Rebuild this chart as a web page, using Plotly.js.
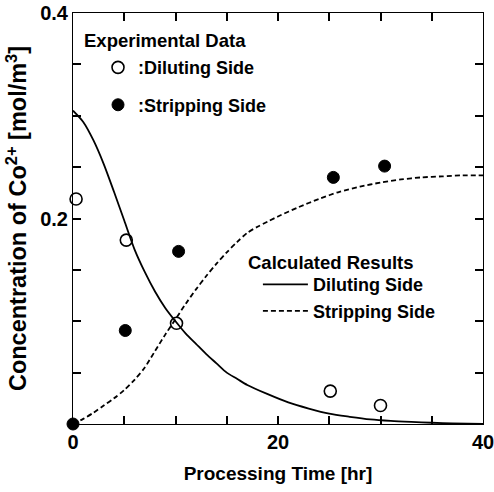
<!DOCTYPE html>
<html><head><meta charset="utf-8">
<script src="https://cdn.plot.ly/plotly-3.0.1.min.js"></script>
<style>body{margin:0;background:#fff}</style>
</head><body>
<div id="chart" style="width:494px;height:492px"></div>
<script>
// Experimental data
const expDilX = [0.3, 5.2, 10.1, 25.1, 30.0];
const expDilY = [0.219, 0.179, 0.098, 0.032, 0.018];
const expStrX = [0.0, 5.1, 10.3, 25.4, 30.4];
const expStrY = [0.0, 0.091, 0.168, 0.240, 0.251];
// Calculated results
const calcDilX = [0,1,2,3,4,5,6,7,8,9,10,11,12,13,14,15,16,17,19,21,23,25,27,29,31,33,35,37,40];
const calcDilY = [0.305,0.294,0.276,0.253,0.226,0.198,0.170,0.148,0.129,0.113,0.100,0.088,0.078,0.068,0.059,0.050,0.044,0.038,0.029,0.021,0.015,0.010,0.007,0.0045,0.003,0.002,0.0012,0.0006,0.0];
const calcStrX = [0,1,2,3,4,5,6,7,8,9,10,11,12,13,14,15,16,17,18,19,20,22,24,26,28,30,32,34,36,38,40];
const calcStrY = [0.0,0.005,0.011,0.018,0.025,0.033,0.043,0.055,0.071,0.087,0.102,0.117,0.131,0.144,0.156,0.167,0.177,0.186,0.192,0.197,0.202,0.211,0.219,0.226,0.231,0.235,0.238,0.240,0.241,0.242,0.242];
// Ticks
const xTickVals = [0, 20, 40];
const yTickVals = [0.2, 0.4];
const legendTitles = ['Experimental Data', 'Calculated Results'];

const F = 'Arial, "Liberation Sans", Helvetica, sans-serif';
const traces = [
  {x: expDilX, y: expDilY, mode: 'markers', name: ':Diluting Side', legend: 'legend', legendgroup: 'a',
   marker: {symbol: 'circle', size: 12, color: '#fff', line: {color: '#000', width: 1.6}}, cliponaxis: false},
  {x: expStrX, y: expStrY, mode: 'markers', name: ':Stripping Side', legend: 'legend', legendgroup: 'b',
   marker: {symbol: 'circle', size: 12, color: '#000', line: {color: '#000', width: 1}}, cliponaxis: false},
  {x: calcDilX, y: calcDilY, mode: 'lines', name: 'Diluting Side', legend: 'legend2',
   line: {color: '#000', width: 1.8, shape: 'spline', smoothing: 0.8}},
  {x: calcStrX, y: calcStrY, mode: 'lines', name: 'Stripping Side', legend: 'legend2',
   line: {color: '#000', width: 1.8, dash: '5px,3px', shape: 'spline', smoothing: 0.8}}
];
const minorTicks = (d) => ({dtick: d, ticks: 'inside', ticklen: 8, tickwidth: 2, tickcolor: '#000',
  showgrid: true, gridcolor: 'rgba(255,255,255,0)'});
const axisCommon = {ticks: 'inside', ticklen: 8, tickwidth: 2, tickcolor: '#000',
  showline: true, linecolor: '#000', linewidth: 1, mirror: 'ticks',
  showgrid: true, gridcolor: 'rgba(255,255,255,0)', zeroline: false,
  ticklabeloverflow: 'allow',
  tickfont: {size: 20, family: F, weight: 'bold', color: '#000'}};
const layout = {
  width: 494, height: 492,
  margin: {l: 73, r: 11, t: 13, b: 68},
  paper_bgcolor: '#fff', plot_bgcolor: '#fff',
  font: {family: F, color: '#000', weight: 'bold'},
  showlegend: true,
  xaxis: Object.assign({}, axisCommon, {range: [0, 40], tickmode: 'array', tickvals: xTickVals,
    minor: minorTicks(5),
    title: {text: 'Processing Time [hr]', font: {size: 19, family: F, weight: 'bold'}, standoff: 14}}),
  yaxis: Object.assign({}, axisCommon, {range: [0, 0.4], tickmode: 'array', tickvals: yTickVals,
    minor: minorTicks(0.05),
    title: {text: 'Concentration of Co<sup>2+</sup> [mol/m<sup>3</sup>]', font: {size: 23.5, family: F, weight: 'bold'}, standoff: 6}}),
  legend: {x: 0.061, y: 0.912, xanchor: 'left', yanchor: 'top', bgcolor: 'rgba(0,0,0,0)',
    traceorder: 'grouped', tracegroupgap: 11, itemwidth: 30,
    font: {size: 18, family: F, weight: 'bold'}},
  legend2: {x: 0.451, y: 0.384, xanchor: 'left', yanchor: 'top', bgcolor: 'rgba(0,0,0,0)',
    traceorder: 'normal', itemwidth: 45,
    font: {size: 18, family: F, weight: 'bold'}},
  annotations: [
    {text: legendTitles[0], xref: 'paper', yref: 'paper', x: 0.022, y: 0.934, xanchor: 'left', yanchor: 'middle',
     showarrow: false, font: {size: 18.5, family: F, weight: 'bold'}},
    {text: legendTitles[1], xref: 'paper', yref: 'paper', x: 0.422, y: 0.394, xanchor: 'left', yanchor: 'middle',
     showarrow: false, font: {size: 18.5, family: F, weight: 'bold'}}
  ]
};
Plotly.newPlot('chart', traces, layout, {displayModeBar: false});
</script>
</body></html>
